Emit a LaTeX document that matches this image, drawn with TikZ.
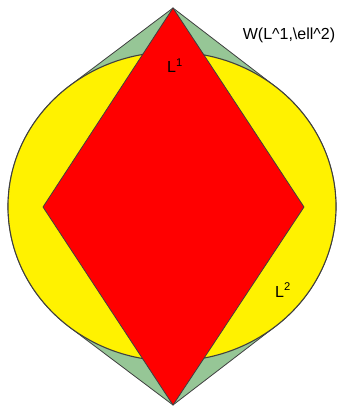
\documentclass[tikz,border=0pt]{standalone}
\usepackage{fontspec}
\setmainfont{Liberation Sans}
\usepackage{tikz}
\definecolor{leafgreen}{RGB}{150,198,150}
\tikzstyle{outline} = [draw=black!75, line width=0.8pt, line join=miter]
\tikzstyle{titletext} = [font=\fontsize{16}{19}\selectfont, inner sep=0pt]
\tikzstyle{normtext} = [font=\fontsize{16}{19}\selectfont, inner sep=0pt]

\begin{document}
\begin{tikzpicture}[x=1pt, y=1pt]
    \useasboundingbox (0,0) rectangle (339,407);
    \coordinate (top) at (173,399);
    \coordinate (bottom) at (173,2);
    \coordinate (left) at (43,200);
    \coordinate (right) at (304,200);
    \coordinate (centre) at (172,200.5);
    \path (centre) ++(51.1:164 and 154.5) coordinate (tr);
    \path (centre) ++(231.1:164 and 154.5) coordinate (bl);

    \filldraw [outline, fill=leafgreen] (top) -- (tr)
        arc [start angle=51.1, end angle=-51.1, x radius=164, y radius=154.5]
        -- (bottom) -- (bl)
        arc [start angle=231.1, end angle=128.9, x radius=164, y radius=154.5] -- cycle;
    \filldraw [outline, line width=1.1pt, fill=yellow] (centre) ellipse [x radius=164, y radius=154.5];
    \filldraw [outline, fill=red] (top) -- (right) -- (bottom) -- (left) -- cycle;

    \node (wball) [titletext] at (289,372) {W(L\textasciicircum 1,\textbackslash ell\textasciicircum 2)};
    \node (lone) [normtext] at (175,341) {L\textsuperscript{1}};
    \node (ltwo) [normtext] at (283,117) {L\textsuperscript{2}};
\end{tikzpicture}
\end{document}
